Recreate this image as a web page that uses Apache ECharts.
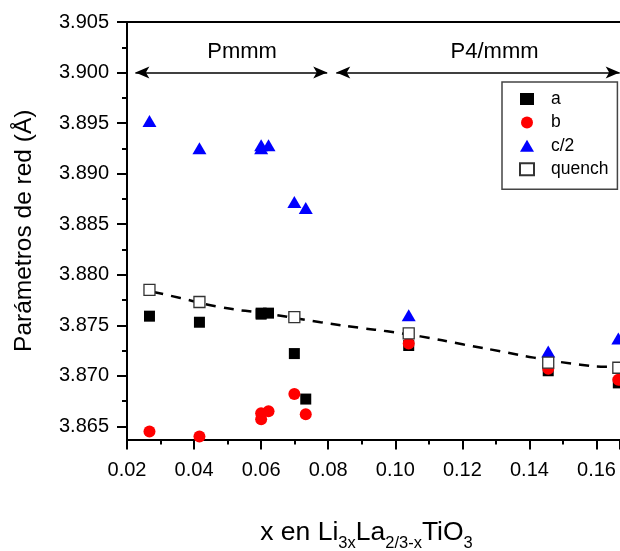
<!DOCTYPE html>
<html>
<head>
<meta charset="utf-8">
<script src="https://cdn.jsdelivr.net/npm/echarts@6/dist/echarts.min.js"></script>
<style>html,body{margin:0;padding:0;background:#fff}#c{width:620px;height:551px}</style>
</head>
<body>
<div id="c"></div>
<script>
// ---- data ----
const xPts   = [0.0267, 0.0416, 0.0600, 0.0600, 0.0622, 0.0699, 0.0733, 0.1040, 0.1456, 0.1665];
const aVals  = [3.8759, 3.8753, 3.8762, 3.8761, 3.8762, 3.8722, 3.8677, 3.8730, 3.8705, 3.8693];
const bVals  = [3.8645, 3.8640, 3.8663, 3.8657, 3.8665, 3.8682, 3.8662, 3.8732, 3.8707, 3.8696];
const c2Vals = [3.8952, 3.8925, 3.8928, 3.8925, 3.8928, 3.8872, 3.8866, 3.8760, 3.8724, 3.8737];
const xQuench = [0.0267, 0.0416, 0.0699, 0.1040, 0.1456, 0.1665];
const quenchVals = [3.8785, 3.8773, 3.8758, 3.8742, 3.8713, 3.8708];
const fitX = [0.0279, 0.0359, 0.0478, 0.0628, 0.0777, 0.0906, 0.0976, 0.1075, 0.1204, 0.1334, 0.1413, 0.1552, 0.1632, 0.1672];
const fitY = [3.8783, 3.8777, 3.8768, 3.8761, 3.8753, 3.8747, 3.8744, 3.8739, 3.8731, 3.8723, 3.8718, 3.8711, 3.8709, 3.8709];
const yTicks = [3.865, 3.870, 3.875, 3.880, 3.885, 3.890, 3.895, 3.900, 3.905];
const yMinorTicks = [3.8675, 3.8725, 3.8775, 3.8825, 3.8875, 3.8925, 3.8975, 3.9025];
const phaseNames = ['Pmmm', 'P4/mmm'];
const phaseFrom = [0.0225, 0.0824];
const phaseTo = [0.0797, 0.1669];
const phaseLevel = 3.900;
const phaseLabelX = [0.0543, 0.1296];
const phaseLabelY = [3.90206, 3.90206];
const legendNames = ['a', 'b', 'c/2', 'quench'];

const FONT = 'Liberation Sans, Arial, sans-serif';
const zip = (xs, ys) => xs.map((x, i) => [x, ys[i]]);

const chart = echarts.init(document.getElementById('c'), null, {renderer: 'canvas'});
const yMin = 3.8637, yMax = 3.905;
const axisLineStyle = {color: '#000', width: 2};

chart.setOption({
  animation: false,
  backgroundColor: '#fff',
  grid: {left: 127, right: 0, top: 22, bottom: 111.5, containLabel: false, outerBoundsMode: 'none'},
  legend: {
    data: legendNames,
    orient: 'vertical',
    left: 502, top: 82,
    padding: [7, 9, 10, 17],
    itemWidth: 14, itemHeight: 12, itemGap: 3.4,
    borderColor: '#444', borderWidth: 1.5,
    textStyle: {fontFamily: FONT, fontSize: 17.5, color: '#000', lineHeight: 20, padding: [0, 0, 0, 12]}
  },
  xAxis: [{
    type: 'value', min: 0.02, max: 0.167, interval: 0.02,
    axisLine: {show: true, lineStyle: axisLineStyle},
    axisTick: {show: true, inside: false, length: 10, lineStyle: {color: '#000', width: 2}},
    minorTick: {show: true, splitNumber: 2, length: 5, lineStyle: {color: '#000', width: 2}},
    axisLabel: {fontFamily: FONT, fontSize: 20, color: '#000', margin: 21, showMaxLabel: false,
      formatter: v => v.toFixed(2)},
    splitLine: {show: false}, minorSplitLine: {show: false},
    name: '{m|x en Li}{s|3x}{m|La}{s|2/3-x}{m|TiO}{s|3}',
    nameLocation: 'middle', nameGap: 80,
    nameTextStyle: {
      fontFamily: FONT, color: '#000', padding: [0, 14, 0, 0],
      rich: {
        m: {fontFamily: FONT, fontSize: 26.5, lineHeight: 26, verticalAlign: 'top', color: '#000'},
        s: {fontFamily: FONT, fontSize: 16.5, lineHeight: 16, verticalAlign: 'top', padding: [15, 0, 0, 0], color: '#000'}
      }
    }
  }, {
    type: 'value', position: 'top', min: 0.02, max: 0.167,
    axisLine: {show: true, lineStyle: axisLineStyle},
    axisTick: {show: false}, axisLabel: {show: false}, splitLine: {show: false}
  }],
  yAxis: [{
    type: 'value', min: yMin, max: yMax,
    axisLine: {show: true, lineStyle: axisLineStyle},
    axisTick: {show: true, length: 10, customValues: yTicks, lineStyle: {color: '#000', width: 2}},
    axisLabel: {fontFamily: FONT, fontSize: 20, color: '#000', margin: 18, customValues: yTicks,
      formatter: v => v.toFixed(3)},
    splitLine: {show: false},
    name: 'Parámetros de red (Å)', nameLocation: 'middle', nameGap: 90,
    nameTextStyle: {fontFamily: FONT, fontSize: 24.5, color: '#000'}
  }, {
    type: 'value', min: yMin, max: yMax, position: 'left', offset: 0,
    axisLine: {show: false},
    axisTick: {show: true, length: 5, customValues: yMinorTicks, lineStyle: {color: '#000', width: 2}},
    axisLabel: {show: false}, splitLine: {show: false}
  }],
  series: [{
    name: 'fit', type: 'line', smooth: true, showSymbol: false, silent: true,
    data: zip(fitX, fitY), z: 1,
    lineStyle: {color: '#000', width: 2.5, type: [10, 8]},
    markLine: {
      silent: true, symbol: ['arrow', 'arrow'], symbolSize: [9, 14],
      lineStyle: {color: '#000', width: 1.5, type: 'solid'},
      label: {show: false},
      data: phaseNames.map((n, i) => [{name: n, coord: [phaseFrom[i], phaseLevel]}, {coord: [phaseTo[i], phaseLevel]}])
    }
  }, {
    name: 'phases', type: 'scatter', symbolSize: 0, silent: true, z: 6,
    itemStyle: {opacity: 1},
    data: phaseNames.map((n, i) => ({name: n, value: [phaseLabelX[i], phaseLabelY[i]]})),
    label: {show: true, position: 'inside', formatter: p => p.name,
      fontFamily: FONT, fontSize: 22, color: '#000', opacity: 1}
  }, {
    name: 'a', type: 'scatter', symbol: 'rect', symbolSize: 11, z: 2,
    itemStyle: {color: '#000', opacity: 1}, data: zip(xPts, aVals)
  }, {
    name: 'b', type: 'scatter', symbol: 'circle', symbolSize: 12, z: 3,
    itemStyle: {color: '#ff0000', opacity: 1}, data: zip(xPts, bVals)
  }, {
    name: 'c/2', type: 'scatter', symbol: 'triangle', symbolSize: [14, 12], z: 4,
    itemStyle: {color: '#0000ff', opacity: 1}, data: zip(xPts, c2Vals)
  }, {
    name: 'quench', type: 'scatter', symbol: 'rect', symbolSize: 11, z: 5,
    itemStyle: {color: '#fff', borderColor: '#333', borderWidth: 1.3, opacity: 1}, data: zip(xQuench, quenchVals)
  }]
});
</script>
</body>
</html>
